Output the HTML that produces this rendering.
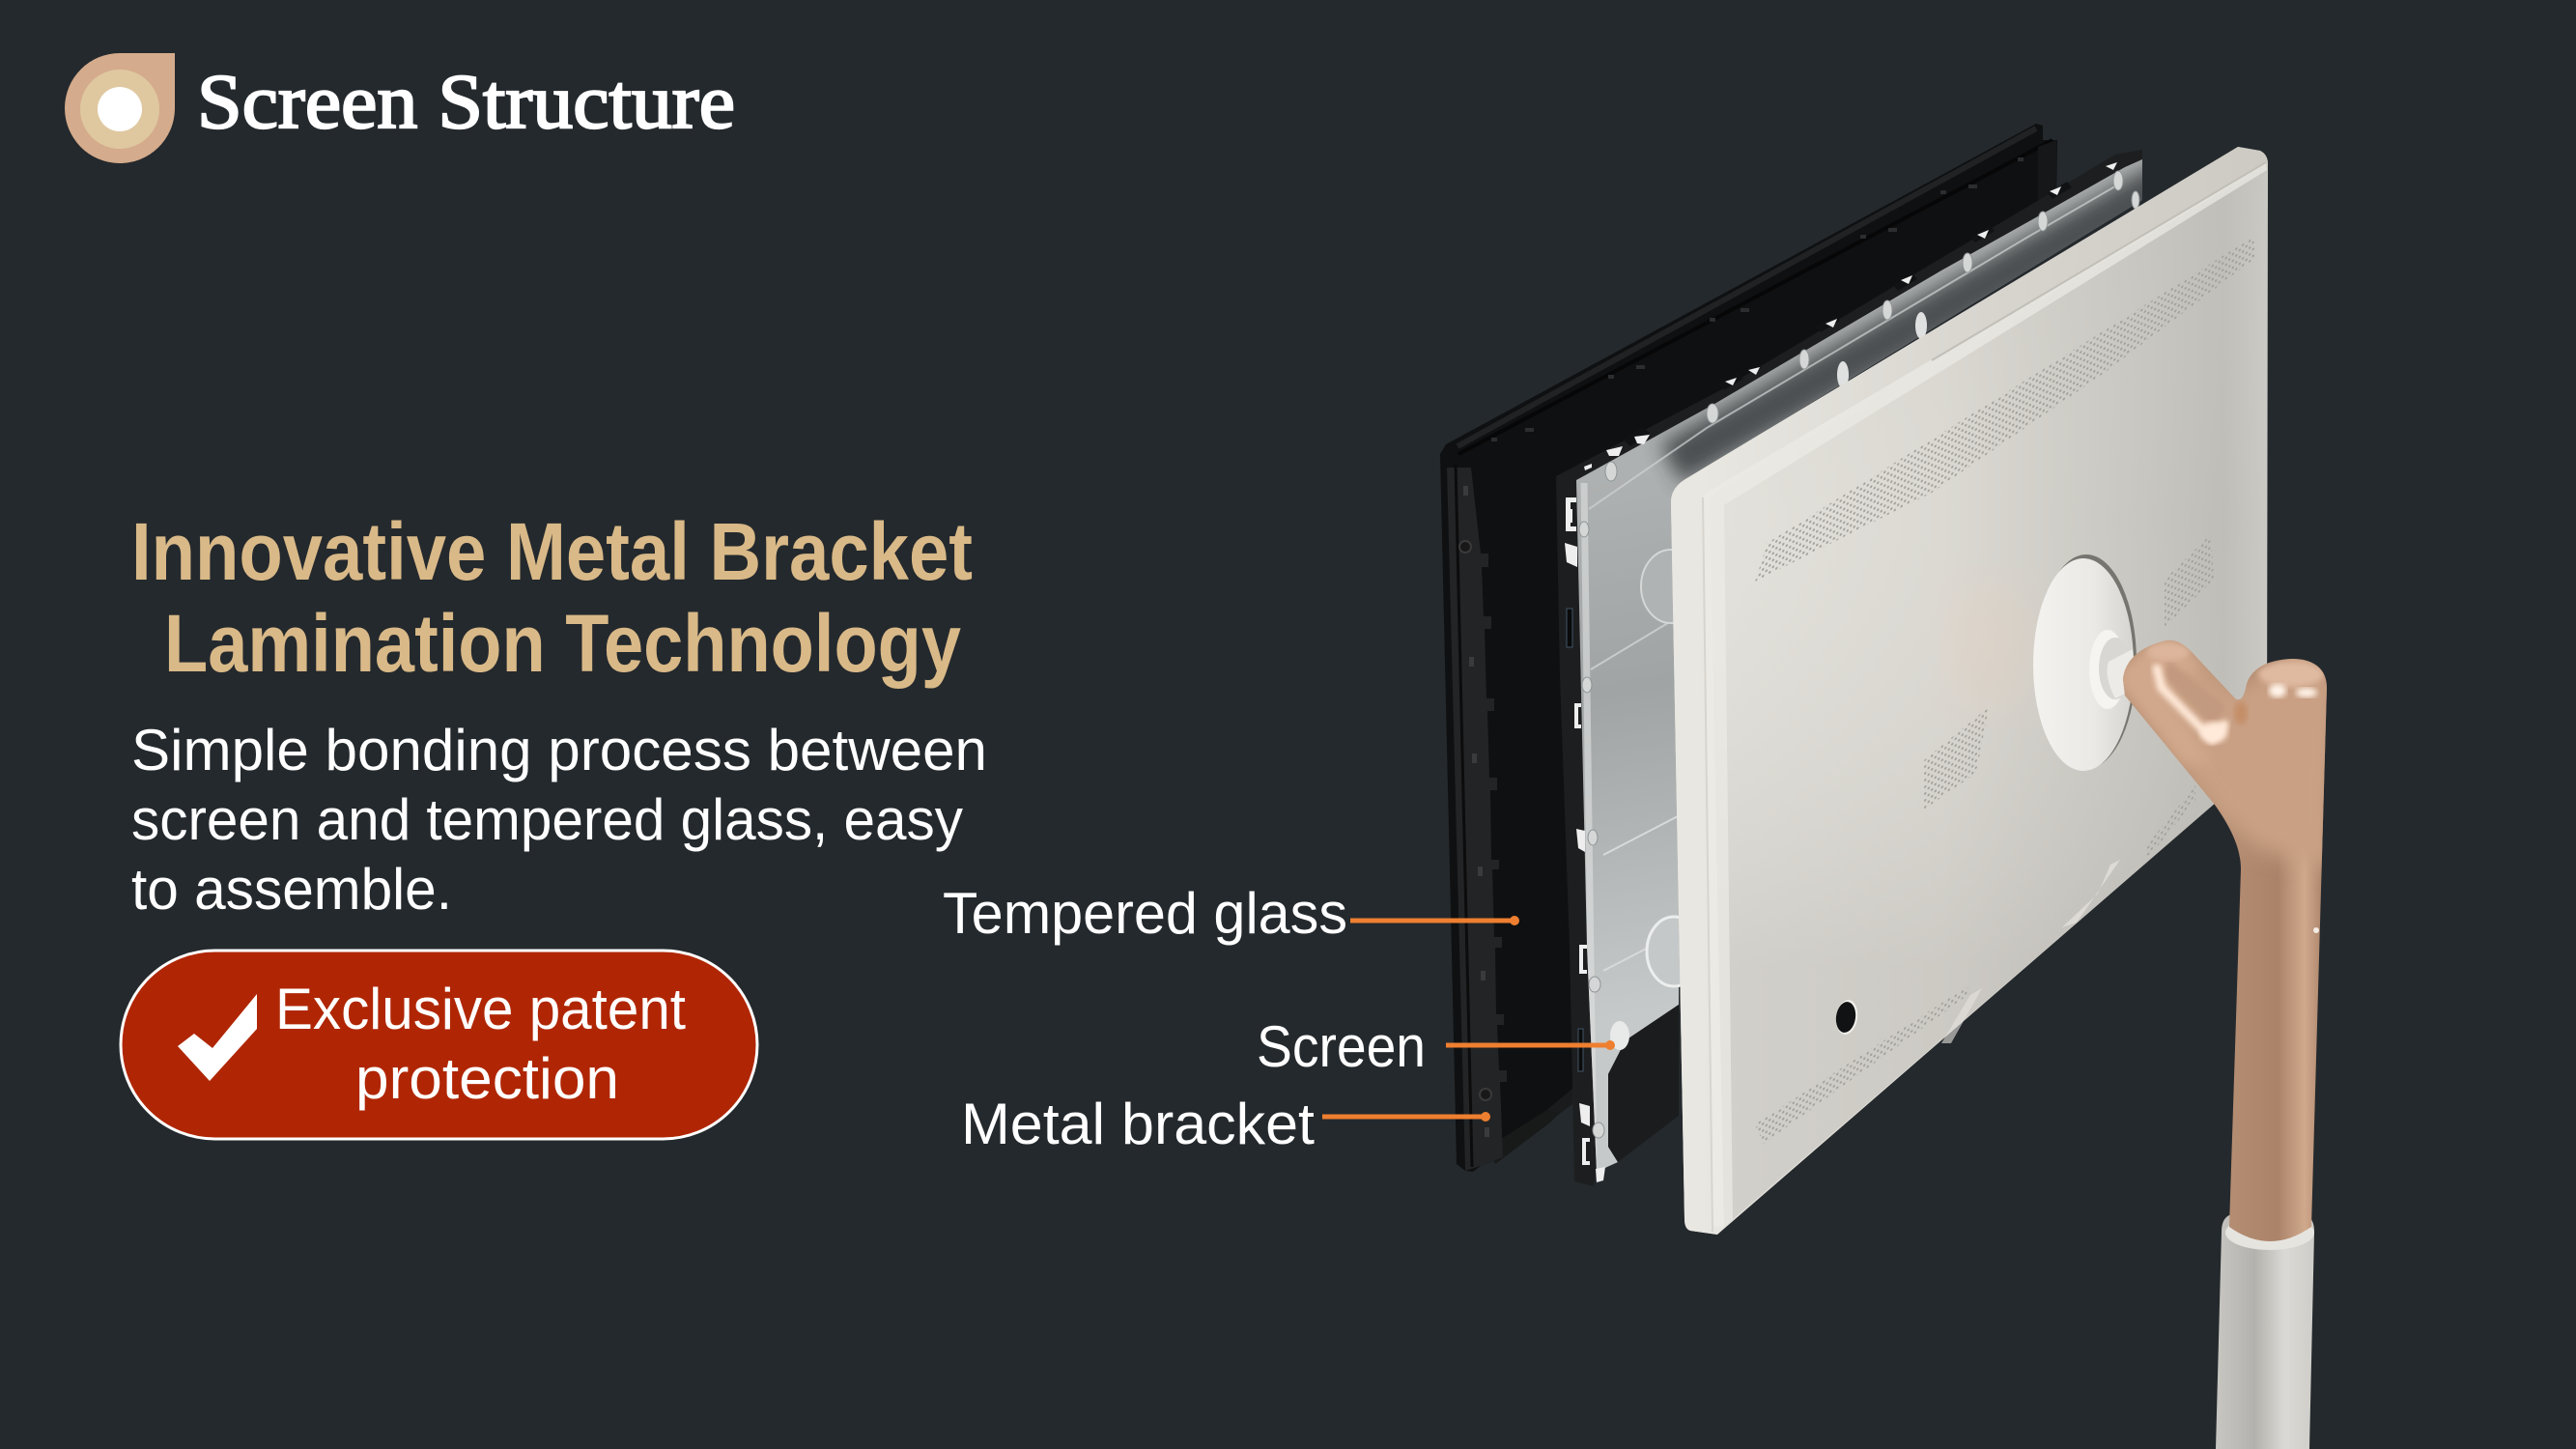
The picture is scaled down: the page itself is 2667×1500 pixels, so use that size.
<!DOCTYPE html>
<html><head><meta charset="utf-8"><title>Screen Structure</title>
<style>html,body{margin:0;padding:0;background:#24292d}svg{display:block}text{font-family:"Liberation Sans",sans-serif}</style>
</head><body>
<svg xmlns="http://www.w3.org/2000/svg" width="2667" height="1500" viewBox="0 0 2667 1500">
<defs>
<linearGradient id="wp" x1="1785" y1="0" x2="2347" y2="0" gradientUnits="userSpaceOnUse"><stop offset="0" stop-color="#e3e1db"/><stop offset=".4" stop-color="#dcd9d3"/><stop offset=".75" stop-color="#c9c7c1"/><stop offset=".92" stop-color="#bfbdb7"/><stop offset="1" stop-color="#cbc9c3"/></linearGradient>
<linearGradient id="wv" x1="0" y1="160" x2="0" y2="1000" gradientUnits="userSpaceOnUse"><stop offset="0" stop-color="#c4c2bc" stop-opacity=".25"/><stop offset=".45" stop-color="#d8d6d0" stop-opacity="0"/><stop offset="1" stop-color="#a9a7a2" stop-opacity=".3"/></linearGradient>
<linearGradient id="lip" x1="1760" y1="0" x2="2347" y2="0" gradientUnits="userSpaceOnUse"><stop offset="0" stop-color="#e9e7e1"/><stop offset=".5" stop-color="#d8d5cf"/><stop offset="1" stop-color="#cdcac3"/></linearGradient>
<linearGradient id="sv" x1="1640" y1="500" x2="1740" y2="1040" gradientUnits="userSpaceOnUse"><stop offset="0" stop-color="#aeb1b1"/><stop offset=".4" stop-color="#a0a4a4"/><stop offset="1" stop-color="#c6c9c9"/></linearGradient>
<linearGradient id="cu" x1="2308" y1="0" x2="2408" y2="0" gradientUnits="userSpaceOnUse"><stop offset="0" stop-color="#b48d72"/><stop offset=".5" stop-color="#aa8369"/><stop offset=".78" stop-color="#d0a98d"/><stop offset="1" stop-color="#a67f66"/></linearGradient>
<linearGradient id="pl" x1="2294" y1="0" x2="2396" y2="0" gradientUnits="userSpaceOnUse"><stop offset="0" stop-color="#c8c6c1"/><stop offset=".4" stop-color="#b4b2ad"/><stop offset=".7" stop-color="#dbd9d4"/><stop offset="1" stop-color="#cfcdc8"/></linearGradient>
<linearGradient id="disc" x1="2107" y1="0" x2="2209" y2="0" gradientUnits="userSpaceOnUse"><stop offset="0" stop-color="#f3f2ef"/><stop offset=".6" stop-color="#ebe9e6"/><stop offset="1" stop-color="#d6d4d0"/></linearGradient>
<pattern id="d" width="7" height="7" patternUnits="userSpaceOnUse" patternTransform="skewY(-30)"><circle cx="1.75" cy="1.75" r="1.2" fill="#a3a19c"/><circle cx="5.25" cy="5.25" r="1.2" fill="#a3a19c"/></pattern>
<filter id="b10"><feGaussianBlur stdDeviation="10"/></filter>
<filter id="b6"><feGaussianBlur stdDeviation="6"/></filter>
<filter id="b3"><feGaussianBlur stdDeviation="3"/></filter>
<filter id="b25"><feGaussianBlur stdDeviation="25"/></filter>
<clipPath id="svc"><polygon points="1632,497 1777,417 2010,280 2117,220 2200,173 2218,165 2218,207 1740,500 1738,1040 1683,1077 1665,1112 1665,1187 1675,1203 1653,1213 1643,980"/></clipPath>
<clipPath id="stc"><path d="M2198,703 C2200,685 2213,670 2243,663 C2255,662 2262,668 2270,676 L2315,724 C2322,726 2324,718 2326,708 C2332,690 2350,683 2373,682 C2395,682 2409,692 2409,712 L2393,1270 Q2350,1300 2308,1270 L2320,900 C2320,880 2312,860 2293,833 L2200,720 Z"/></clipPath>
</defs>
<rect width="2667" height="1500" fill="#24292d"/>

<!-- logo -->
<path d="M181,55 V113 A57,57 0 1 1 124,55 Z" fill="#d4ab8c"/>
<circle cx="124" cy="113" r="41" fill="#dfc8a0"/>
<circle cx="124" cy="113" r="23" fill="#fff"/>
<text x="204" y="132" font-size="80" fill="#fff" stroke="#fff" stroke-width="2.2" textLength="557" lengthAdjust="spacingAndGlyphs" style="font-family:'Liberation Serif',serif">Screen Structure</text>

<!-- headings -->
<text x="136" y="600" font-size="84" font-weight="bold" fill="#d9b988" textLength="871" lengthAdjust="spacingAndGlyphs">Innovative Metal Bracket</text>
<text x="170" y="695" font-size="84" font-weight="bold" fill="#d9b988" textLength="825" lengthAdjust="spacingAndGlyphs">Lamination Technology</text>
<g font-size="60" fill="#fff">
<text x="136" y="797" textLength="886" lengthAdjust="spacingAndGlyphs">Simple bonding process between</text>
<text x="136" y="869" textLength="861" lengthAdjust="spacingAndGlyphs">screen and tempered glass, easy</text>
<text x="136" y="941" textLength="332" lengthAdjust="spacingAndGlyphs">to assemble.</text>
</g>

<!-- button -->
<rect x="125" y="984" width="659" height="195" rx="97.5" fill="#b02604" stroke="#fff" stroke-width="3"/>
<polygon points="184,1083 201,1070 220,1085 266,1029 266,1065 217,1119" fill="#fff"/>
<g font-size="60" fill="#fff">
<text x="285" y="1065" textLength="425" lengthAdjust="spacingAndGlyphs">Exclusive patent</text>
<text x="368" y="1137" textLength="273" lengthAdjust="spacingAndGlyphs">protection</text>
</g>

<!-- back panel -->
<polygon points="1491,470 1497,460 2108,128 2115,130 2115,145 2130,145 2129,203 2000,280 1628,500 1628,1127 1533,1207 1525,1213 1517,1212 1508,1205" fill="#0f1011"/>
<polygon points="1533,1207 1628,1127 1628,1143 1552,1200" fill="#1a1b1c"/>
<polygon points="1540,1188 1600,1150 1615,1152 1605,1162 1548,1205" fill="#181919"/>
<polyline points="1509,462 2108,133" stroke="#212223" stroke-width="6" fill="none"/>
<polyline points="1510,470 2125,145" stroke="#070708" stroke-width="4" fill="none"/>
<polygon points="2110,152 2129,145 2129,200 2110,213" fill="#161718"/>
<polygon points="1498,484 1523,484 1533,573 1541,573 1541,587 1534,587 1536,638 1544,638 1544,651 1537,651 1539,723 1547,723 1547,736 1540,736 1542,805 1550,805 1550,818 1543,818 1544,890 1552,890 1552,900 1545,900 1547,970 1555,970 1555,981 1548,981 1549,1050 1557,1050 1557,1061 1550,1061 1552,1108 1560,1108 1560,1120 1553,1120 1556,1198 1533,1207 1517,1212" fill="#232425"/>
<line x1="1507" y1="480" x2="1524" y2="1208" stroke="#0c0c0d" stroke-width="3"/>
<circle cx="1517" cy="566" r="6" fill="#181818" stroke="#3a3a3b" stroke-width="2"/>
<circle cx="1538" cy="1133" r="6" fill="#181818" stroke="#3a3a3b" stroke-width="2"/>
<g fill="#3a3b3c">
<rect x="1515" y="503" width="5" height="10"/><rect x="1521" y="680" width="5" height="10"/><rect x="1524" y="780" width="5" height="10"/><rect x="1530" y="897" width="5" height="10"/><rect x="1533" y="1005" width="5" height="10"/><rect x="1537" y="1167" width="5" height="10"/>
</g>
<g fill="#2c2d2e">
<rect x="1544" y="453" width="6" height="4"/><rect x="1579" y="443" width="9" height="4"/><rect x="1665" y="388" width="6" height="4"/><rect x="1694" y="378" width="9" height="4"/><rect x="1770" y="329" width="6" height="4"/><rect x="1802" y="319" width="9" height="4"/><rect x="1926" y="243" width="6" height="4"/><rect x="1955" y="236" width="9" height="4"/><rect x="2009" y="197" width="6" height="4"/><rect x="2038" y="191" width="9" height="4"/><rect x="2089" y="163" width="6" height="4"/>
</g>

<!-- bracket -->
<polygon points="1611,493 1783,403 2000,273 2190,160 2218,155 2218,168 2200,178 2010,285 1777,422 1632,502 1643,980 1653,1213 1650,1228 1630,1223 1625,980 1615,700" fill="#1d1e1f"/>
<g fill="#111213">
<polygon points="1680,455 1700,442 1708,448 1688,462"/><polygon points="1780,398 1800,386 1805,392 1785,404"/><polygon points="1880,338 1900,326 1905,332 1885,344"/><polygon points="1960,295 1980,283 1985,289 1965,301"/><polygon points="2040,245 2060,233 2065,239 2045,251"/><polygon points="2120,200 2140,188 2145,194 2125,206"/>
</g>
<polygon points="1632,497 1777,417 2010,280 2117,220 2200,173 2218,165 2218,207 1740,500 1738,1040 1683,1077 1665,1112 1665,1187 1675,1203 1653,1213 1643,980" fill="url(#sv)"/>
<g clip-path="url(#svc)">
<line x1="1730" y1="480" x2="2330" y2="140" stroke="#2c2f30" stroke-width="46" opacity=".75" filter="url(#b10)"/>
<polyline points="1645,527 1767,443 2100,245 2195,190" stroke="#d0d3d3" stroke-width="2" fill="none" opacity=".7"/>
<line x1="1647" y1="693" x2="1735" y2="640" stroke="#c8cbcb" stroke-width="2"/>
<line x1="1660" y1="885" x2="1737" y2="845" stroke="#d8dada" stroke-width="2"/>
<line x1="1660" y1="1005" x2="1737" y2="965" stroke="#d8dada" stroke-width="2"/>
<line x1="1640" y1="500" x2="1650" y2="1210" stroke="#dfe1e1" stroke-width="7" opacity=".6"/>
</g>
<polygon points="1683,1077 1738,1040 1738,1155 1675,1203 1665,1187 1665,1112" fill="#1b1c1d"/>
<ellipse cx="1730" cy="607" rx="31" ry="38" fill="#b0b3b3" stroke="#d5d7d7" stroke-width="2"/>
<ellipse cx="1733" cy="985" rx="28" ry="36" fill="#c5c8c8" stroke="#eceeee" stroke-width="3"/>
<g fill="#d5d7d7" stroke="#8f9494" stroke-width="1">
<ellipse cx="1668" cy="488" rx="6" ry="10"/><ellipse cx="1773" cy="428" rx="6" ry="10"/><ellipse cx="1868" cy="372" rx="5" ry="10"/><ellipse cx="1954" cy="321" rx="5" ry="10"/><ellipse cx="2037" cy="272" rx="5" ry="10"/><ellipse cx="2115" cy="229" rx="5" ry="10"/><ellipse cx="2193" cy="187" rx="5" ry="10"/><ellipse cx="2211" cy="207" rx="4" ry="9"/>
<ellipse cx="1640" cy="548" rx="5" ry="8"/><ellipse cx="1643" cy="709" rx="5" ry="8"/><ellipse cx="1649" cy="867" rx="5" ry="8"/><ellipse cx="1651" cy="1019" rx="6" ry="8"/><ellipse cx="1655" cy="1170" rx="6" ry="8"/>
</g>
<ellipse cx="1677" cy="1072" rx="10" ry="15" fill="#e8eaea"/>
<ellipse cx="1989" cy="337" rx="6" ry="14" fill="#dfe1e1"/><ellipse cx="1908" cy="388" rx="6" ry="14" fill="#dfe1e1"/>
<g fill="#eeeeee">
<path d="M1621,515 h11 v5 h-6 v25 h6 v5 h-11 z"/><rect x="1622" y="527" width="6" height="14"/>
<polygon points="1620,562 1633,566 1633,587 1622,582"/>
<path d="M1630,728 h7 v4 h-3 v18 h3 v4 h-7 z"/><polygon points="1632,858 1641,860 1641,882 1634,878"/>
<path d="M1635,978 h8 v4 h-4 v22 h4 v4 h-8 z"/>
<polygon points="1635,1142 1646,1145 1646,1166 1637,1162"/><path d="M1638,1178 h8 v4 h-4 v20 h4 v4 h-8 z"/>
<polygon points="1652,1210 1662,1208 1660,1222 1653,1224"/>
<polygon points="1663,466 1680,462 1676,472 1666,472"/><polygon points="1692,452 1708,450 1702,460 1695,459"/><polygon points="1640,483 1648,480 1648,484 1641,487"/>
<polygon points="1786,395 1798,391 1794,399"/><polygon points="1810,383 1822,380 1818,388"/><polygon points="1890,335 1902,330 1898,339"/><polygon points="1968,290 1980,285 1976,294"/><polygon points="2047,243 2059,238 2055,247"/><polygon points="2122,198 2134,193 2130,202"/><polygon points="2180,172 2192,168 2188,176"/>
</g>
<rect x="1622" y="630" width="6" height="40" fill="#0b0b0b" stroke="#40546a" stroke-width="1"/>
<rect x="1634" y="1065" width="5" height="44" fill="#0b0b0b" stroke="#40546a" stroke-width="1"/>

<!-- white panel -->
<path d="M1730,520 Q1730,505 1745,496 L2317,152 L2340,156 Q2348,160 2348,170 L2347,785 L1778,1278 L1750,1274 Q1744,1272 1744,1262 Z" fill="url(#wp)"/>
<path d="M1763,525 L2347,170 L2347,785 L1785,1270 Z" fill="url(#wv)"/>
<path d="M1730,520 Q1730,505 1745,496 L2317,152 L2340,156 Q2348,160 2348,170 L1770,514 L1785,1270 L1778,1278 L1750,1274 Q1744,1272 1744,1262 Z" fill="url(#lip)"/>
<path d="M1763,515 Q1768,508 1775,505 L2346,168 L2347,176 L1785,523 L1794,1262 L1785,1270 L1773,1270 Z" fill="#ecebe6" opacity=".7"/>
<line x1="1763" y1="515" x2="1773" y2="1275" stroke="#d8d5cf" stroke-width="2"/>
<line x1="2000" y1="373" x2="2346" y2="168" stroke="#c1bfb8" stroke-width="2"/>
<ellipse cx="2060" cy="670" rx="45" ry="70" fill="#e8d0bc" opacity=".3" filter="url(#b25)"/>

<!-- vents -->
<polygon points="1817,602 1830,562 2333,245 2335,267 2180,385 2000,510" fill="url(#d)"/>
<polygon points="2241,600 2289,553 2292,600 2241,649" fill="url(#d)"/>
<polygon points="1992,787 2059,732 2046,800 1992,838" fill="url(#d)"/>
<polygon points="1817,1164 2037,1021 2040,1028 1826,1184" fill="url(#d)"/>
<polygon points="2222,876 2273,813 2273,828 2222,890" fill="url(#d)"/>
<polygon points="2010,1080 2040,1030 2052,1023 2020,1080" fill="#e6e3dd" opacity=".6"/>
<polygon points="2135,960 2172,925 2185,895 2195,890 2150,955" fill="#e8e5df" opacity=".7"/>

<!-- hole -->
<ellipse cx="1912" cy="1053" rx="11" ry="18" fill="#f2f0ec" transform="rotate(8 1912 1053)"/>
<ellipse cx="1911" cy="1053" rx="10" ry="16" fill="#101214" transform="rotate(8 1911 1053)"/>

<!-- mount -->
<ellipse cx="2160" cy="685" rx="52" ry="111" fill="#77756f"/>
<ellipse cx="2157" cy="688" rx="52" ry="110" fill="url(#disc)"/>
<ellipse cx="2182" cy="693" rx="19" ry="41" fill="#f5f4f1"/>
<ellipse cx="2190" cy="692" rx="17" ry="32" fill="#d9d7d3"/>
<path d="M2183,685 L2208,672 L2212,712 L2190,723 Q2178,700 2183,685 Z" fill="#ecebe7"/>

<!-- pole -->
<path d="M2300,1275 Q2300,1262 2308,1258 L2388,1258 Q2396,1262 2396,1275 L2391,1500 L2294,1500 Z" fill="url(#pl)"/>
<ellipse cx="2350" cy="1276" rx="46" ry="18" fill="#e6e4df"/>

<!-- copper stem -->
<g clip-path="url(#stc)">
<rect x="2190" y="650" width="230" height="660" fill="url(#cu)"/>
<polygon points="2190,700 2243,655 2315,715 2373,672 2420,700 2415,900 2340,880 2293,840" fill="#c9a084" filter="url(#b10)"/>
<polygon points="2190,700 2243,655 2280,690 2240,720 2290,790 2260,790" fill="#d2a88c" filter="url(#b6)"/>
<polygon points="2245,683 2305,732 2290,750 2240,700" fill="#c29a7f" filter="url(#b3)"/>
<ellipse cx="2372" cy="698" rx="34" ry="13" fill="#dfb9a0" filter="url(#b3)"/>
<ellipse cx="2245" cy="675" rx="22" ry="9" fill="#dcb59b" filter="url(#b3)"/>
<ellipse cx="2320" cy="738" rx="7" ry="12" fill="#c48e68" filter="url(#b3)"/>
<polyline points="2233,692 2238,712 2290,765 2303,750" stroke="#ffe9d8" stroke-width="9" fill="none" stroke-linecap="round" filter="url(#b3)"/>
<ellipse cx="2358" cy="715" rx="9" ry="7" fill="#fff3e8" filter="url(#b3)"/>
<ellipse cx="2388" cy="717" rx="11" ry="5" fill="#fff3e8" filter="url(#b3)"/>
<ellipse cx="2292" cy="758" rx="14" ry="11" fill="#ffe9d8" filter="url(#b3)"/>
</g>
<circle cx="2398" cy="963" r="3" fill="#f3ece4"/>

<!-- connectors -->
<g stroke="#ee7f30" stroke-width="5" fill="#ee7f30">
<line x1="1398" y1="953" x2="1568" y2="953"/><circle cx="1568" cy="953" r="5" stroke="none"/>
<line x1="1497" y1="1082" x2="1667" y2="1082"/><circle cx="1667" cy="1082" r="5" stroke="none"/>
<line x1="1369" y1="1156" x2="1538" y2="1156"/><circle cx="1538" cy="1156" r="5" stroke="none"/>
</g>
<g font-size="60" fill="#fff">
<text x="976" y="966" textLength="419" lengthAdjust="spacingAndGlyphs">Tempered glass</text>
<text x="1301" y="1104" textLength="175" lengthAdjust="spacingAndGlyphs">Screen</text>
<text x="995" y="1184" textLength="366" lengthAdjust="spacingAndGlyphs">Metal bracket</text>
</g>
</svg>
</body></html>
